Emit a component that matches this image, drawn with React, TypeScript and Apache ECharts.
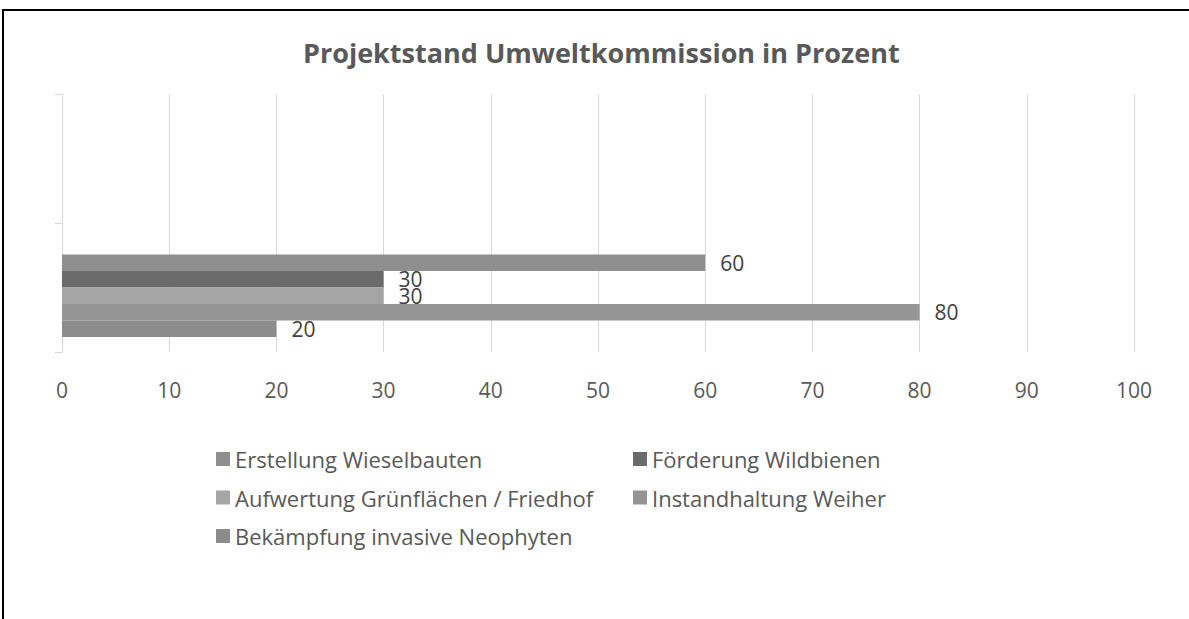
import React, { useEffect, useRef } from "react";
import * as echarts from "echarts";

const TITLE = "Projektstand Umweltkommission in Prozent";
const categories = ["leer", "Projekte"];
const seriesNames = [
  "Erstellung Wieselbauten",
  "Förderung Wildbienen",
  "Aufwertung Grünflächen / Friedhof",
  "Instandhaltung Weiher",
  "Bekämpfung invasive Neophyten",
];
const seriesValues: (number | null)[][] = [
  [null, 60],
  [null, 30],
  [null, 30],
  [null, 80],
  [null, 20],
];
const seriesColors = ["#8f8f8f", "#6b6b6b", "#a5a5a5", "#959595", "#8c8c8c"];
const xTicks = { min: 0, max: 100, interval: 10 };

const FONT = "'Open Sans', 'Noto Sans', sans-serif";

export default function App() {
  const ref = useRef<HTMLDivElement>(null);
  useEffect(() => {
    if (!ref.current) return;
    const chart = echarts.init(ref.current, undefined, { renderer: "svg" });
    const barSeries: any[] = seriesNames.map((name, i) => ({
      name,
      type: "bar",
      data: seriesValues[i],
      barWidth: 16.5,
      barGap: "0%",
      itemStyle: { color: seriesColors[i] },
      label: {
        show: true,
        position: "right",
        distance: 15,
        color: "#404040",
        fontSize: 21,
        fontFamily: FONT,
      },
    }));
    const spacer = {
      name: "spacer",
      type: "bar",
      data: [null, null],
      barWidth: 16.5,
      barGap: "0%",
      silent: true,
    };
    const legendText = { fontSize: 22, lineHeight: 22, color: "#595959", fontFamily: FONT };
    chart.setOption({
      animation: false,
      backgroundColor: "#ffffff",
      textStyle: { fontFamily: FONT },
      title: {
        text: TITLE,
        left: 303,
        top: 39,
        padding: 0,
        textStyle: {
          fontFamily: FONT,
          fontSize: 27,
          fontWeight: "bold",
          color: "#595959",
        },
      },
      legend: [
        {
          data: [seriesNames[0], seriesNames[2], seriesNames[4]],
          orient: "vertical",
          left: 216,
          top: 448,
          padding: 0,
          itemWidth: 14,
          itemHeight: 14,
          itemGap: 16.5,
          icon: "rect",
          textStyle: legendText,
        },
        {
          data: [seriesNames[1], seriesNames[3]],
          orient: "vertical",
          left: 633,
          top: 448,
          padding: 0,
          itemWidth: 14,
          itemHeight: 14,
          itemGap: 16.5,
          icon: "rect",
          textStyle: legendText,
        },
      ],
      grid: { left: 62, right: 55, top: 94, bottom: 267, containLabel: false },
      xAxis: {
        type: "value",
        min: xTicks.min,
        max: xTicks.max,
        interval: xTicks.interval,
        axisLine: { show: false },
        axisTick: { show: false },
        splitLine: { show: true, lineStyle: { color: "#d9d9d9", width: 1 } },
        axisLabel: { color: "#595959", fontSize: 21, margin: 27, fontFamily: FONT },
      },
      yAxis: {
        type: "category",
        data: categories,
        inverse: true,
        axisLine: { show: true, lineStyle: { color: "#d9d9d9", width: 1 } },
        axisTick: { show: true, length: 7, lineStyle: { color: "#d9d9d9" } },
        axisLabel: { show: false },
        splitLine: { show: false },
      },
      graphic: [
        {
          type: "line",
          shape: { x1: 3, y1: 10, x2: 1189, y2: 10 },
          style: { stroke: "#000000", lineWidth: 2 },
          silent: true,
          z: 100,
        },
        {
          type: "line",
          shape: { x1: 3, y1: 9, x2: 3, y2: 619 },
          style: { stroke: "#000000", lineWidth: 2 },
          silent: true,
          z: 100,
        },
      ],
      series: [spacer, ...barSeries],
    });
    return () => chart.dispose();
  }, []);
  return (
    <div
      ref={ref}
      style={{ position: "fixed", left: 0, top: 0, width: 1189, height: 619 }}
    />
  );
}
